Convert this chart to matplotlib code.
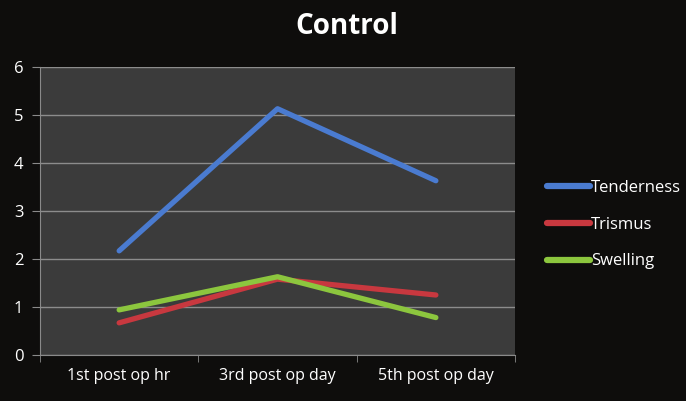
import matplotlib

matplotlib.use("Agg")
import matplotlib.pyplot as plt

categories = ["1st post op hr", "3rd post op day", "5th post op day"]
tenderness = [2.17, 5.13, 3.63]
trismus = [0.67, 1.58, 1.25]
swelling = [0.94, 1.63, 0.78]

plt.rcParams["font.family"] = ["Open Sans", "DejaVu Sans"]

fig = plt.figure(figsize=(6.86, 4.01), dpi=100, facecolor="#0e0d0c")
ax = fig.add_axes([0.0583, 0.1147, 0.6925, 0.7183])
ax.set_facecolor("#3b3b3b")

x = range(len(categories))
ax.plot(x, tenderness, color="#4a7bd0", linewidth=3.8, solid_capstyle="round", label="Tenderness")
ax.plot(x, trismus, color="#c8383f", linewidth=3.8, solid_capstyle="round", label="Trismus")
ax.plot(x, swelling, color="#8cc63e", linewidth=3.8, solid_capstyle="round", label="Swelling")

ax.set_xlim(-0.5, 2.5)
ax.set_ylim(0, 6)
ax.set_yticks(range(7))
ax.set_xticks(list(x))
ax.set_xticklabels(categories)
ax.set_xticks([-0.5, 0.5, 1.5, 2.5], minor=True)
ax.tick_params(axis="x", which="major", length=0, colors="white", labelsize=11.5, pad=9)
ax.tick_params(axis="x", which="minor", length=5, color="#8a8a8a", direction="out")
ax.tick_params(axis="y", length=6, color="#8a8a8a", colors="white", labelsize=12, pad=6)
ax.yaxis.grid(True, color="#8c8c8c", linewidth=1)
ax.set_axisbelow(True)
for side in ["top", "right"]:
    ax.spines[side].set_visible(False)
for side in ["left", "bottom"]:
    ax.spines[side].set_color("#8a8a8a")

fig.suptitle("Control", x=0.505, y=0.97, color="white", fontsize=20, fontweight="bold")

leg = fig.legend(loc="center left", bbox_to_anchor=(0.775, 0.44), frameon=False,
                 labelcolor="white", fontsize=12, handlelength=2.6, handletextpad=0.05,
                 labelspacing=1.25)
for line in leg.get_lines():
    line.set_linewidth(4.5)

fig.savefig("out.png", dpi=100, facecolor=fig.get_facecolor())
